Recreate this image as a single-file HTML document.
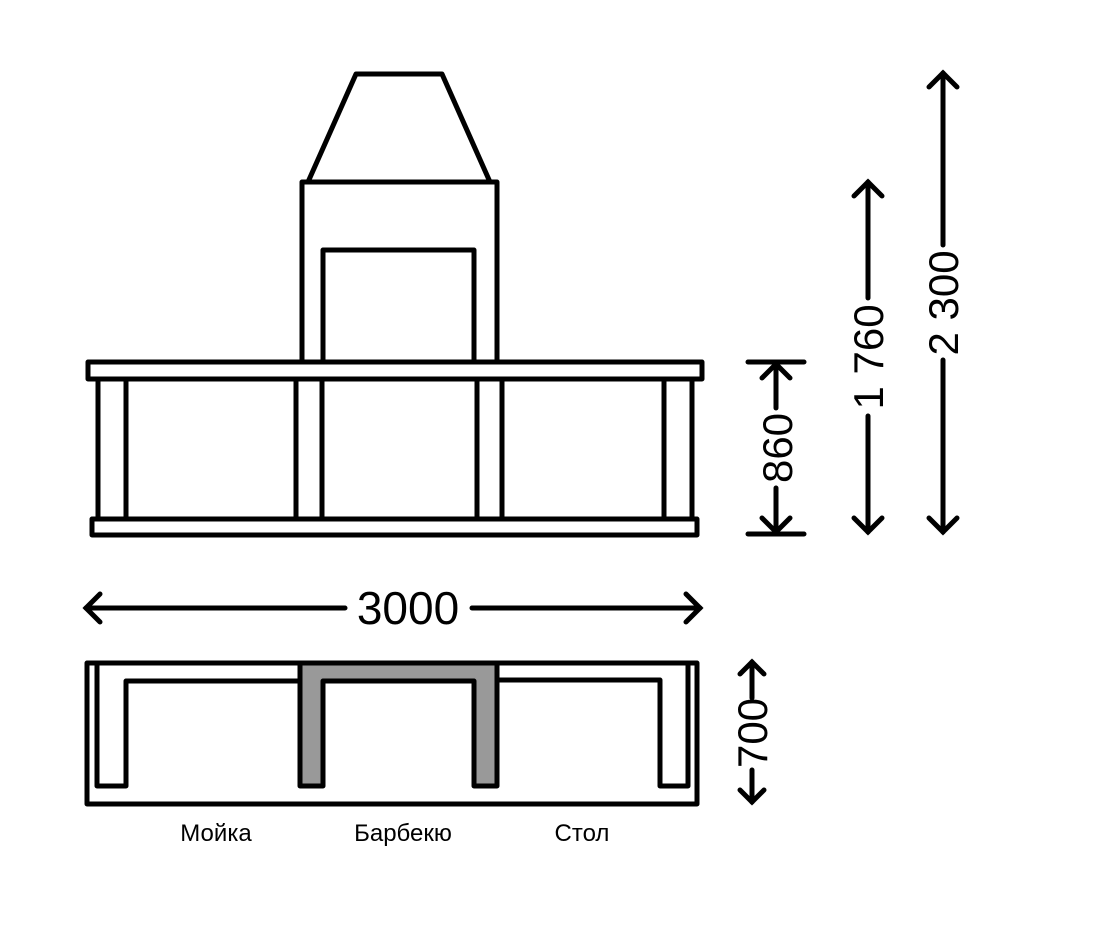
<!DOCTYPE html>
<html><head><meta charset="utf-8"><style>body{margin:0;background:#fff}svg{display:block}</style></head>
<body>
<svg width="1096" height="932" viewBox="0 0 1096 932" xmlns="http://www.w3.org/2000/svg">
<g fill="none" stroke="#000" stroke-width="5" stroke-linejoin="round">
<polygon points="356,74 442,74 490,182 308,182" fill="#fff"/>
<polyline points="302,362 302,182 497,182 497,362"/>
<polyline points="323,362 323,250 474,250 474,362"/>
<rect x="88" y="362" width="614" height="17" fill="#fff"/>
<rect x="92" y="519" width="605" height="16" fill="#fff"/>
<line x1="98" y1="379" x2="98" y2="519"/><line x1="126" y1="379" x2="126" y2="519"/>
<line x1="296" y1="379" x2="296" y2="519"/><line x1="322" y1="379" x2="322" y2="519"/>
<line x1="477" y1="379" x2="477" y2="519"/><line x1="502" y1="379" x2="502" y2="519"/>
<line x1="664" y1="379" x2="664" y2="519"/><line x1="692" y1="379" x2="692" y2="519"/>
<rect x="87" y="663" width="610" height="141" fill="#fff"/>
<polyline points="97,663 97,786 126,786 126,681 300,681"/>
<polygon points="300,663 497,663 497,786 474,786 474,681 323,681 323,786 300,786" fill="#999"/>
<polyline points="497,680 660,680 660,786 688,786 688,663"/>
</g>
<g stroke="#000" stroke-width="5" fill="none" stroke-linecap="round">
<line x1="748" y1="362" x2="804" y2="362"/><line x1="748" y1="534" x2="804" y2="534"/>
<line x1="776" y1="364" x2="776" y2="408"/><line x1="776" y1="488" x2="776" y2="532"/>
<polyline points="762,378 776,364 790,378"/><polyline points="762,518 776,532 790,518"/>
<line x1="868" y1="182" x2="868" y2="298"/><line x1="868" y1="416" x2="868" y2="532"/>
<polyline points="854,196 868,182 882,196"/><polyline points="854,518 868,532 882,518"/>
<line x1="943" y1="73" x2="943" y2="245"/><line x1="943" y1="360" x2="943" y2="532"/>
<polyline points="929,87 943,73 957,87"/><polyline points="929,518 943,532 957,518"/>
<line x1="86" y1="608" x2="345" y2="608"/><line x1="472" y1="608" x2="700" y2="608"/>
<polyline points="100,594 86,608 100,622"/><polyline points="686,594 700,608 686,622"/>
<line x1="752" y1="662" x2="752" y2="698"/><line x1="752" y1="770" x2="752" y2="802"/>
<polyline points="740,674 752,662 764,674"/><polyline points="740,790 752,802 764,790"/>
</g>
<g font-family="Liberation Sans, sans-serif" fill="#000" text-anchor="middle">
<text x="408" y="624" font-size="46">3000</text>
<text transform="translate(792,448) rotate(-90)" font-size="42">860</text>
<text transform="translate(883,357) rotate(-90)" font-size="42">1 760</text>
<text transform="translate(958,303) rotate(-90)" font-size="42">2 300</text>
<text transform="translate(767,733) rotate(-90)" font-size="42">700</text>
<text x="216" y="841" font-size="24">Мойка</text>
<text x="403" y="841" font-size="24">Барбекю</text>
<text x="582" y="841" font-size="24">Стол</text>
</g>
</svg>
</body></html>
